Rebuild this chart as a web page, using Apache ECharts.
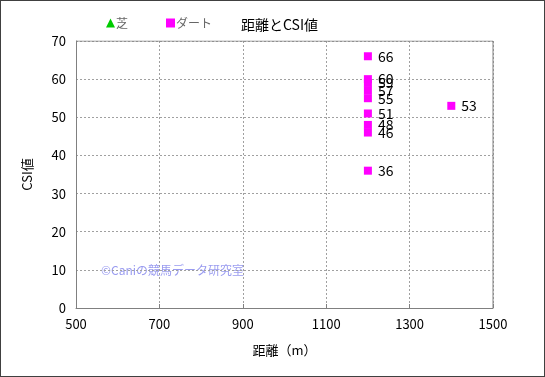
<!DOCTYPE html>
<html>
<head>
<meta charset="utf-8">
<script src="https://cdn.jsdelivr.net/npm/echarts@6/dist/echarts.min.js"></script>
<style>
  html, body { margin: 0; padding: 0; background: #fff; }
  #chart { width: 545px; height: 377px; box-sizing: border-box; border: 1px solid #404040; }
</style>
</head>
<body>
<div id="chart"></div>
<script>
// distance (m) and CSI value
const turfDist = [];
const turfCsi = [];
const dirtDist = [1200, 1200, 1200, 1200, 1200, 1200, 1200, 1200, 1200, 1400];
const dirtCsi = [66, 60, 59, 57, 55, 51, 48, 46, 36, 53];
const xTicks = [500, 700, 900, 1100, 1300, 1500];

const FONT = "'Noto Sans CJK JP', 'Noto Sans', sans-serif";

const chart = echarts.init(document.getElementById("chart"));

const option = {
  animation: false,
  textStyle: { fontFamily: FONT },
  title: {
    text: "距離とCSI値",
    left: 235, top: 12,
    textStyle: { fontSize: 14, fontWeight: "normal", color: "#000", fontFamily: FONT }
  },
  legend: {
    left: 100, top: 11,
    itemWidth: 9, itemHeight: 9, itemGap: 38,
    textStyle: { fontSize: 12, color: "#666", fontFamily: FONT, padding: [0, 0, 0, -4] },
    data: [
      { name: "芝", icon: "triangle", itemStyle: { color: "#00cc00", opacity: 1 } },
      { name: "ダート", icon: "rect", itemStyle: { color: "#ff00ff", opacity: 1 } }
    ]
  },
  graphic: [{
    type: "text", left: 100, top: 263,
    style: { text: "©Caniの競馬データ研究室", fill: "#9a9cf0", font: "12px " + FONT }
  }],
  grid: { left: 75, right: 51, top: 40, bottom: 68 },
  xAxis: {
    type: "value", min: 500, max: 1500, interval: 200,
    name: "距離（m）", nameLocation: "middle", nameGap: 36,
    nameTextStyle: { fontSize: 13, color: "#000", fontFamily: FONT },
    axisLine: { show: true, onZero: false, lineStyle: { color: "#808080" } },
    axisTick: { show: true, inside: true, length: 4, lineStyle: { color: "#808080" } },
    axisLabel: { fontSize: 13, color: "#000", margin: 10,
      formatter: v => xTicks.includes(v) ? String(v) : "" },
    splitLine: { show: true, lineStyle: { color: "#a0a0a0", type: [2, 2] } }
  },
  yAxis: {
    type: "value", min: 0, max: 70, interval: 10,
    name: "CSI値", nameLocation: "middle", nameGap: 42, nameRotate: 90,
    nameTextStyle: { fontSize: 13, color: "#000", fontFamily: FONT },
    axisLine: { show: true, lineStyle: { color: "#808080" } },
    axisTick: { show: false },
    axisLabel: { fontSize: 13, color: "#000", margin: 10 },
    splitLine: { show: true, lineStyle: { color: "#a0a0a0", type: [2, 2] } }
  },
  series: [
    {
      name: "芝", type: "scatter", symbol: "triangle", symbolSize: 9,
      itemStyle: { color: "#00cc00", opacity: 1 },
      data: turfDist.map((d, i) => [d, turfCsi[i]])
    },
    {
      name: "ダート", type: "scatter", symbol: "rect", symbolSize: 8,
      itemStyle: { color: "#ff00ff", opacity: 1 },
      label: {
        show: true, position: "right", distance: 6,
        fontSize: 14, color: "#000", fontFamily: FONT,
        formatter: p => String(p.value[1])
      },
      labelLayout: { hideOverlap: false },
      data: dirtDist.map((d, i) => [d, dirtCsi[i]])
    },
    {
      // plot frame top/right
      type: "line", silent: true, symbol: "none",
      lineStyle: { color: "#808080", width: 1 },
      data: [[500, 70], [1500, 70], [1500, 0]]
    }
  ]
};
chart.setOption(option);
</script>
</body>
</html>
